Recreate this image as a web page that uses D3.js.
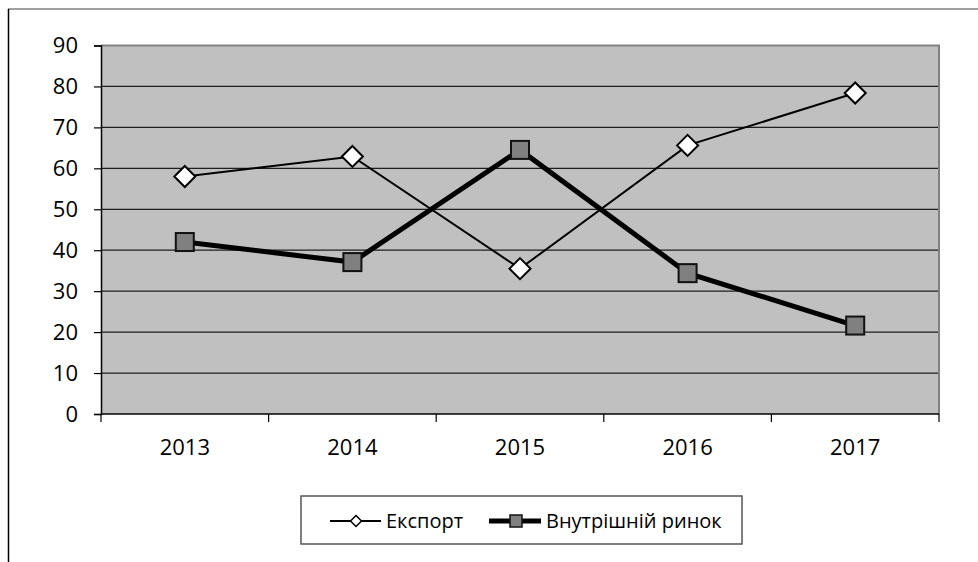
<!DOCTYPE html>
<html>
<head>
<meta charset="utf-8">
<script src="https://cdn.jsdelivr.net/npm/d3@7/dist/d3.min.js"></script>
<style>
  html, body { margin: 0; padding: 0; background: #fff; }
  svg { display: block; }
  text { font-family: "Open Sans", "Noto Sans", sans-serif; fill: #000; }
</style>
</head>
<body>
<svg id="chart" width="978" height="562"></svg>
<script>
// Chart data
const years = ["2013", "2014", "2015", "2016", "2017"];
const exportValues = [58.0, 62.9, 35.5, 65.6, 78.4];
const domesticValues = [42.0, 37.1, 64.5, 34.4, 21.6];
const yTicks = [0, 10, 20, 30, 40, 50, 60, 70, 80, 90];
const seriesNames = ["Експорт", "Внутрішній ринок"];

const svg = d3.select("#chart");
const W = 978, H = 562;
const plot = { left: 101, right: 939, top: 45.5, bottom: 414 };

// outer frame (top and left edges visible)
svg.append("line").attr("x1", 8).attr("x2", W + 5).attr("y1", 9).attr("y2", 9)
  .attr("stroke", "#808080").attr("stroke-width", 1.5);
svg.append("line").attr("x1", 8.5).attr("x2", 8.5).attr("y1", 9).attr("y2", H + 5)
  .attr("stroke", "#000").attr("stroke-width", 1.5);

const x = d3.scaleBand().domain(years).range([plot.left, plot.right]).padding(0);
const y = d3.scaleLinear().domain([0, 90]).range([plot.bottom, plot.top]);

// plot background
svg.append("rect")
  .attr("x", plot.left).attr("y", plot.top)
  .attr("width", plot.right - plot.left).attr("height", plot.bottom - plot.top)
  .attr("fill", "#c0c0c0");

// horizontal gridlines
svg.append("g").selectAll("line").data(yTicks.filter(d => d > 0 && d < 90)).join("line")
  .attr("x1", plot.left).attr("x2", plot.right)
  .attr("y1", d => y(d)).attr("y2", d => y(d))
  .attr("stroke", "#1e1e1e").attr("stroke-width", 1.2);

// plot area border (top and right)
svg.append("path")
  .attr("d", `M${plot.left},${y(90)}H${plot.right}V${plot.bottom}`)
  .attr("fill", "none").attr("stroke", "#808080").attr("stroke-width", 2);

// y axis
const yAxis = d3.axisLeft(y).tickValues(yTicks).tickSize(7).tickPadding(16).tickFormat(d3.format("d"));
const gy = svg.append("g").attr("transform", `translate(${plot.left},0)`).call(yAxis);
gy.select(".domain").attr("stroke", "#000").attr("stroke-width", 1.5);
gy.selectAll(".tick line").attr("stroke", "#000").attr("stroke-width", 1.2);
gy.selectAll("text").attr("font-size", 22).attr("font-family", "'Open Sans', sans-serif");

// x axis: labels centred in bands, ticks on band edges
const xAxis = d3.axisBottom(x).tickSize(0).tickPadding(25);
const gx = svg.append("g").attr("transform", `translate(0,${plot.bottom})`).call(xAxis);
gx.select(".domain").remove();
gx.selectAll("text").attr("font-size", 22).attr("font-family", "'Open Sans', sans-serif");
const edges = years.map(d => x(d)).concat([x(years[years.length - 1]) + x.bandwidth()]);
svg.append("g").selectAll("line").data(edges).join("line")
  .attr("x1", d => d).attr("x2", d => d)
  .attr("y1", plot.bottom).attr("y2", plot.bottom + 8)
  .attr("stroke", "#000").attr("stroke-width", 1.2);
svg.append("line")
  .attr("x1", plot.left).attr("x2", plot.right)
  .attr("y1", plot.bottom).attr("y2", plot.bottom)
  .attr("stroke", "#000").attr("stroke-width", 1.5);

const cx = d => x(d) + x.bandwidth() / 2;
const line = d3.line().x(d => cx(d.year)).y(d => y(d.value));
const exportPts = years.map((yr, i) => ({ year: yr, value: exportValues[i] }));
const domesticPts = years.map((yr, i) => ({ year: yr, value: domesticValues[i] }));

// Export series: thin line, hollow diamonds
svg.append("path").datum(exportPts).attr("d", line)
  .attr("fill", "none").attr("stroke", "#000").attr("stroke-width", 2);

// Domestic market series: thick line, grey squares
svg.append("path").datum(domesticPts).attr("d", line)
  .attr("fill", "none").attr("stroke", "#000").attr("stroke-width", 5);

const diamond = (r) => `M0,${-r}L${r},0L0,${r}L${-r},0Z`;
svg.append("g").selectAll("path").data(exportPts).join("path")
  .attr("transform", d => `translate(${cx(d.year)},${y(d.value)})`)
  .attr("d", diamond(10.5))
  .attr("fill", "#fff").attr("stroke", "#000").attr("stroke-width", 2);

svg.append("g").selectAll("rect").data(domesticPts).join("rect")
  .attr("x", d => cx(d.year) - 9).attr("y", d => y(d.value) - 9)
  .attr("width", 18).attr("height", 18)
  .attr("fill", "#808080").attr("stroke", "#111").attr("stroke-width", 2);

// legend
const lg = svg.append("g");
lg.append("rect").attr("x", 301).attr("y", 496).attr("width", 441).attr("height", 48)
  .attr("fill", "#fff").attr("stroke", "#555").attr("stroke-width", 1.5);
const ly = 521;
// Export entry
lg.append("line").attr("x1", 330).attr("x2", 381).attr("y1", ly).attr("y2", ly)
  .attr("stroke", "#000").attr("stroke-width", 2);
lg.append("path").attr("transform", `translate(356,${ly})`).attr("d", diamond(5.5))
  .attr("fill", "#fff").attr("stroke", "#000").attr("stroke-width", 1.5);
lg.append("text").attr("x", 386).attr("y", ly).attr("dy", "0.35em")
  .attr("font-size", 20).text(seriesNames[0]);
// Domestic entry
lg.append("line").attr("x1", 489).attr("x2", 541).attr("y1", ly).attr("y2", ly)
  .attr("stroke", "#000").attr("stroke-width", 5);
lg.append("rect").attr("x", 510).attr("y", ly - 6).attr("width", 12).attr("height", 12)
  .attr("fill", "#808080").attr("stroke", "#111").attr("stroke-width", 1.5);
lg.append("text").attr("x", 546).attr("y", ly).attr("dy", "0.35em")
  .attr("font-size", 20).text(seriesNames[1]);
</script>
</body>
</html>
